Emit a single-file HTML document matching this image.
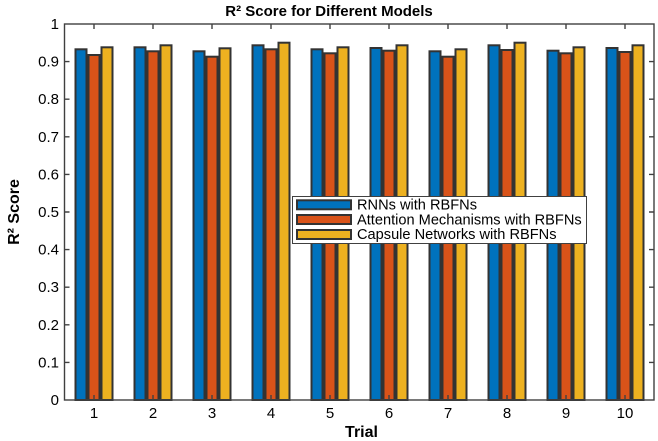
<!DOCTYPE html>
<html><head><meta charset="utf-8"><style>
html,body{margin:0;padding:0;background:#fff;}
svg{display:block;}
text{font-family:"Liberation Sans",Arial,sans-serif;fill:#000;}
</style></head><body>
<svg width="658" height="441" viewBox="0 0 658 441" xmlns="http://www.w3.org/2000/svg">
<rect x="0" y="0" width="658" height="441" fill="#fff"/>
<text x="329" y="16" font-size="15" font-weight="bold" text-anchor="middle">R² Score for Different Models</text>
<g stroke="#333" stroke-width="2">
<rect x="75.5" y="49.3" width="11" height="350.7" fill="#0072BD"/>
<rect x="88.5" y="55" width="11" height="345" fill="#D95319"/>
<rect x="101.5" y="47.3" width="11" height="352.7" fill="#EDB120"/>
<rect x="134.5" y="47.3" width="11" height="352.7" fill="#0072BD"/>
<rect x="147.5" y="51.3" width="11" height="348.7" fill="#D95319"/>
<rect x="160.5" y="45.3" width="11" height="354.7" fill="#EDB120"/>
<rect x="193.5" y="51.3" width="11" height="348.7" fill="#0072BD"/>
<rect x="206.5" y="56.7" width="11" height="343.3" fill="#D95319"/>
<rect x="219.5" y="48.3" width="11" height="351.7" fill="#EDB120"/>
<rect x="252.5" y="45.3" width="11" height="354.7" fill="#0072BD"/>
<rect x="265.5" y="49.3" width="11" height="350.7" fill="#D95319"/>
<rect x="278.5" y="42.7" width="11" height="357.3" fill="#EDB120"/>
<rect x="311.5" y="49.3" width="11" height="350.7" fill="#0072BD"/>
<rect x="324.5" y="53.3" width="11" height="346.7" fill="#D95319"/>
<rect x="337.5" y="47.3" width="11" height="352.7" fill="#EDB120"/>
<rect x="370.5" y="48" width="11" height="352" fill="#0072BD"/>
<rect x="383.5" y="50.7" width="11" height="349.3" fill="#D95319"/>
<rect x="396.5" y="45.3" width="11" height="354.7" fill="#EDB120"/>
<rect x="429.5" y="51.3" width="11" height="348.7" fill="#0072BD"/>
<rect x="442.5" y="56.7" width="11" height="343.3" fill="#D95319"/>
<rect x="455.5" y="49.3" width="11" height="350.7" fill="#EDB120"/>
<rect x="488.5" y="45.3" width="11" height="354.7" fill="#0072BD"/>
<rect x="501.5" y="50" width="11" height="350" fill="#D95319"/>
<rect x="514.5" y="42.7" width="11" height="357.3" fill="#EDB120"/>
<rect x="547.5" y="50.7" width="11" height="349.3" fill="#0072BD"/>
<rect x="560.5" y="53.3" width="11" height="346.7" fill="#D95319"/>
<rect x="573.5" y="47.3" width="11" height="352.7" fill="#EDB120"/>
<rect x="606.5" y="48" width="11" height="352" fill="#0072BD"/>
<rect x="619.5" y="52" width="11" height="348" fill="#D95319"/>
<rect x="632.5" y="45.3" width="11" height="354.7" fill="#EDB120"/>
</g>
<g stroke="#404040" stroke-width="1.4" fill="none">
<rect x="64.5" y="24" width="589.5" height="376"/>
<path d="M94 400v-5M153 400v-5M212 400v-5M271 400v-5M330 400v-5M389 400v-5M448 400v-5M507 400v-5M566 400v-5M625 400v-5M94 24v5M153 24v5M212 24v5M271 24v5M330 24v5M389 24v5M448 24v5M507 24v5M566 24v5M625 24v5"/>
<path d="M64.5 362.4h5M64.5 324.8h5M64.5 287.2h5M64.5 249.6h5M64.5 212h5M64.5 174.4h5M64.5 136.8h5M64.5 99.2h5M64.5 61.6h5M654 362.4h-5M654 324.8h-5M654 287.2h-5M654 249.6h-5M654 212h-5M654 174.4h-5M654 136.8h-5M654 99.2h-5M654 61.6h-5"/>
</g>
<g font-size="15" text-anchor="end">
<text x="59" y="405">0</text>
<text x="59" y="367.4">0.1</text>
<text x="59" y="329.8">0.2</text>
<text x="59" y="292.2">0.3</text>
<text x="59" y="254.6">0.4</text>
<text x="59" y="217">0.5</text>
<text x="59" y="179.4">0.6</text>
<text x="59" y="141.8">0.7</text>
<text x="59" y="104.2">0.8</text>
<text x="59" y="66.6">0.9</text>
<text x="59" y="29">1</text>
</g>
<g font-size="15" text-anchor="middle">
<text x="94" y="418">1</text>
<text x="153" y="418">2</text>
<text x="212" y="418">3</text>
<text x="271" y="418">4</text>
<text x="330" y="418">5</text>
<text x="389" y="418">6</text>
<text x="448" y="418">7</text>
<text x="507" y="418">8</text>
<text x="566" y="418">9</text>
<text x="625" y="418">10</text>
</g>
<text x="361.5" y="437" font-size="16" font-weight="bold" text-anchor="middle">Trial</text>
<text transform="translate(19,212) rotate(-90)" font-size="16" font-weight="bold" text-anchor="middle">R² Score</text>
<rect x="292.5" y="196.5" width="294" height="47" fill="#fff" stroke="#404040" stroke-width="1"/>
<g stroke="#333" stroke-width="2">
<rect x="297" y="200.3" width="54" height="9" fill="#0072BD"/>
<rect x="297" y="215" width="54" height="9" fill="#D95319"/>
<rect x="297" y="230" width="54" height="9" fill="#EDB120"/>
</g>
<g font-size="14.6">
<text x="357" y="209.5">RNNs with RBFNs</text>
<text x="357" y="224.3">Attention Mechanisms with RBFNs</text>
<text x="357" y="239">Capsule Networks with RBFNs</text>
</g>
</svg>
</body></html>
